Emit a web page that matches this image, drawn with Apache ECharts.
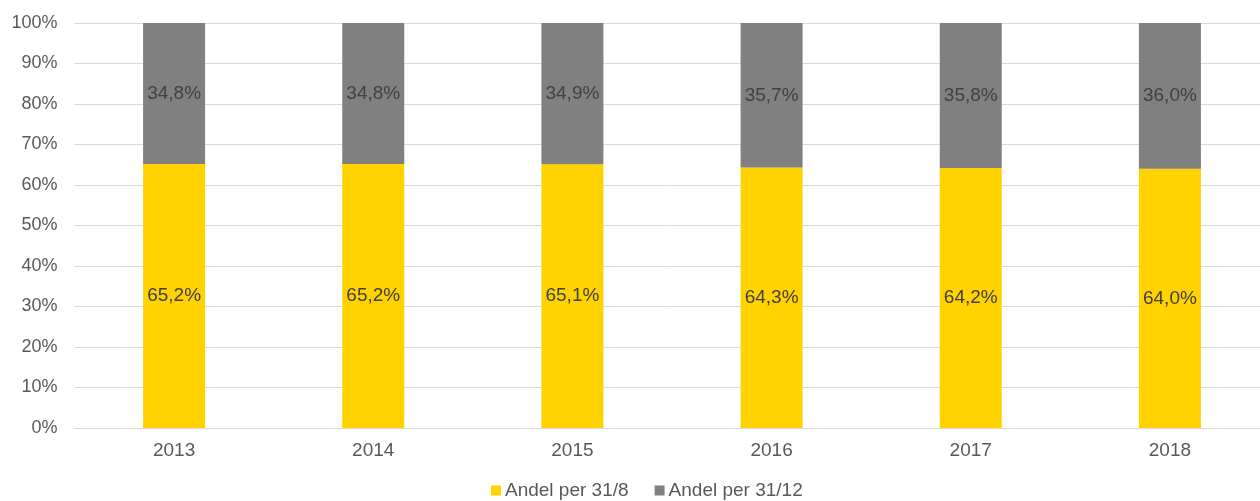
<!DOCTYPE html>
<html>
<head>
<meta charset="utf-8">
<script src="https://cdn.jsdelivr.net/npm/echarts@6/dist/echarts.min.js"></script>
<style>
  html, body { margin: 0; padding: 0; background: #fff; }
  #chart { width: 1260px; height: 501px; }
</style>
</head>
<body>
<div id="chart"></div>
<script>
const years = ['2013', '2014', '2015', '2016', '2017', '2018'];
const shareAug = [65.2, 65.2, 65.1, 64.3, 64.2, 64.0];
const shareDec = [34.8, 34.8, 34.9, 35.7, 35.8, 36.0];
const seriesNames = ['Andel per 31/8', 'Andel per 31/12'];

const fontFamily = 'Arial, "Liberation Sans", sans-serif';
const fmtPct = v => v.toFixed(1).replace('.', ',') + '%';

const chart = echarts.init(document.getElementById('chart'));

const labelStyle = {
  show: true,
  position: 'inside',
  color: '#404040',
  fontFamily,
  fontSize: 19,
  formatter: p => fmtPct(p.value)
};

chart.setOption({
  animation: false,
  textStyle: { fontFamily },
  grid: {
    left: 74.5, top: 23, width: 1195, height: 405,
    containLabel: false,
    outerBoundsMode: 'none'
  },
  legend: {
    top: 476,
    left: 486,
    padding: 5,
    itemWidth: 10,
    itemHeight: 10,
    itemGap: 26,
    icon: 'rect',
    textStyle: { color: '#595959', fontSize: 19, fontFamily, padding: [0, 0, 0, -1] },
    data: seriesNames
  },
  xAxis: {
    type: 'category',
    data: years,
    axisLine: { lineStyle: { color: '#d9d9d9', width: 1 } },
    axisTick: { show: false },
    axisLabel: { color: '#595959', fontSize: 19, margin: 13 }
  },
  yAxis: {
    type: 'value',
    min: 0,
    max: 100,
    interval: 10,
    axisLabel: { color: '#595959', fontSize: 18, margin: 17, formatter: v => v + '%' },
    splitLine: { lineStyle: { color: '#d9d9d9', width: 1 } },
    axisLine: { show: false },
    axisTick: { show: false }
  },
  series: [
    {
      name: seriesNames[0],
      type: 'bar',
      stack: 'share',
      data: shareAug,
      barWidth: 62,
      itemStyle: { color: '#FFD200' },
      label: labelStyle
    },
    {
      name: seriesNames[1],
      type: 'bar',
      stack: 'share',
      data: shareDec,
      barWidth: 62,
      itemStyle: { color: '#808080' },
      label: labelStyle
    }
  ]
});
</script>
</body>
</html>
